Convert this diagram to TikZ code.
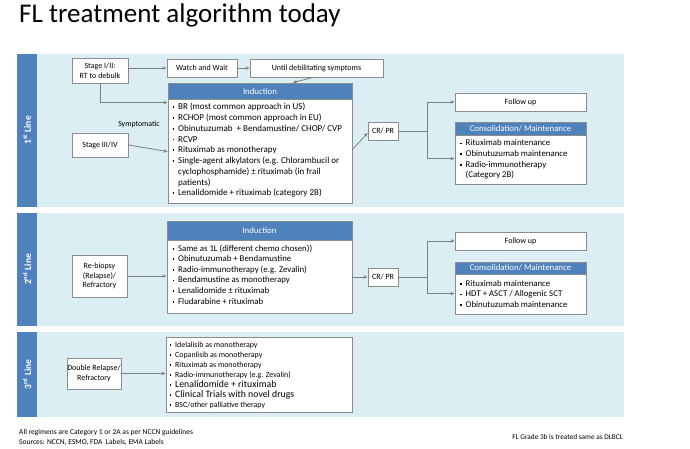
\documentclass[tikz,border=0pt]{standalone}
\usepackage{fontspec}
\setmainfont{Carlito}
\usetikzlibrary{arrows.meta,calc}
\definecolor{bandfill}{HTML}{DAEEF3}
\definecolor{hdrblue}{HTML}{4F81BD}
\definecolor{boxgray}{HTML}{8C8C8C}
\definecolor{arrgray}{HTML}{7F7F7F}
\newcommand{\bul}{\makebox[5.5pt][l]{\raisebox{1.6pt}{\rule{1.7pt}{1.7pt}}}}
\newcommand{\cnt}{\hspace*{5.5pt}}
\begin{document}
\begin{tikzpicture}[x=1pt,y=-1pt,
 box/.style={draw=boxgray, fill=white, line width=0.9pt, inner sep=0pt, align=center, font=\fontsize{8}{9.8}\selectfont},
 hdr/.style={draw=boxgray, fill=hdrblue, text=white, line width=0.9pt, inner sep=0pt, anchor=north, font=\fontsize{8.8}{10}\selectfont},
 lst/.style={inner sep=0pt, align=left, anchor=north west},
 arr/.style={draw=arrgray, line width=0.8pt, -{Stealth[length=4pt,width=3.5pt]}},
 ln/.style={draw=arrgray, line width=0.8pt},
 bar/.style={fill=hdrblue, draw=none, inner sep=0pt, minimum width=20pt},
 bartxt/.style={rotate=90, text=white, inner sep=0pt, font=\fontsize{9.5}{11}\selectfont\bfseries},
 band/.style={fill=bandfill}]
\useasboundingbox (0,0) rectangle (690,449);
\fill[white] (0,0) rectangle (690,449);

\node[anchor=base west, inner sep=0pt, font=\fontsize{27}{30}\selectfont] (title) at (19,23) {FL treatment algorithm today};

% bands
\fill[band] (37,54) rectangle (624,207);
\node[bar, minimum height=153pt] (bar1) at (27,130.5) {};
\node[bartxt] (lab1) at (bar1.center) {1\textsuperscript{st} Line};
\fill[band] (37,213) rectangle (624,326);
\node[bar, minimum height=113pt] (bar2) at (27,269.5) {};
\node[bartxt] (lab2) at (bar2.center) {2\textsuperscript{nd} Line};
\fill[band] (37,332) rectangle (624,417);
\node[bar, minimum height=85pt] (bar3) at (27,374.5) {};
\node[bartxt] (lab3) at (bar3.center) {3\textsuperscript{rd} Line};

% 1st line
\node[box, minimum width=56pt, minimum height=25pt] (s12) at (100,70.5) {Stage I/II:\\RT to debulk};
\node[box, minimum width=70pt, minimum height=18pt] (ww) at (202,68) {Watch and Wait};
\node[box, minimum width=133pt, minimum height=18pt] (until) at (316.5,68) {Until debilitating symptoms};
\node[box, minimum width=56pt, minimum height=24pt] (s34) at (100,145) {Stage III/IV};
\node[inner sep=0pt, font=\fontsize{7.8}{9}\selectfont] (symp) at (139,124) {Symptomatic};
\node[box, minimum width=184pt, minimum height=120pt] (ind1) at (260,143) {};
\node[hdr, minimum width=184pt, minimum height=16pt] (ind1h) at (ind1.north) {Induction};
\node[lst, font=\fontsize{9}{10.75}\selectfont] (ind1l) at (172.5,103) {\bul BR (most common approach in US)\\
\bul RCHOP (most common approach in EU)\\
\bul Obinutuzumab\ \ + Bendamustine/ CHOP/ CVP\\
\bul RCVP\\
\bul Rituximab as monotherapy\\
\bul Single-agent alkylators (e.g. Chlorambucil or\\
\cnt cyclophosphamide) ± rituximab (in frail\\
\cnt patients)\\
\bul Lenalidomide + rituximab (category 2B)};
\node[box, minimum width=30pt, minimum height=18pt] (crpr1) at (383,131) {CR/ PR};
\node[box, minimum width=131pt, minimum height=18pt] (fu1) at (520.5,102) {Follow up};
\node[box, minimum width=131pt, minimum height=62pt] (cons1) at (520.5,153) {};
\node[hdr, minimum width=131pt, minimum height=13pt] (cons1h) at (cons1.north) {Consolidation/ Maintenance};
\node[lst, font=\fontsize{8.8}{10.7}\selectfont] (cons1l) at (460,139.5) {\bul Rituximab maintenance\\
\bul Obinutuzumab maintenance\\
\bul Radio-immunotherapy\\
\cnt (Category 2B)};

\draw[arr] (s12.east |- ww.west) -- (ww.west);
\draw[arr] (ww.east) -- (until.west);
\draw[arr] ($(until.south)+(-3.5,0)$) -- ($(ind1.north)+(33,0)$);
\draw[arr] (s12.south) |- ($(ind1.north west)+(0,20)$);
\draw[arr] (s34.east) -- ($(ind1.north west)+(0,69)$);
\draw[arr] ($(ind1.north east)+(0,67)$) -- ($(crpr1.west)+(0,2)$);
\coordinate (br1) at ($(crpr1.east)+(29,0)$);
\draw[ln] (crpr1.east) -- (br1);
\draw[arr] (br1) |- (fu1.west);
\draw[arr] (br1) |- ($(cons1.north west)+(0,37)$);

% 2nd line
\node[box, minimum width=55pt, minimum height=42pt, font=\fontsize{8}{9.3}\selectfont] (rb) at (99.5,276) {Re-biopsy\\(Relapse)/\\Refractory};
\node[box, minimum width=185pt, minimum height=92pt] (ind2) at (259.5,267) {};
\node[hdr, minimum width=185pt, minimum height=19pt] (ind2h) at (ind2.north) {Induction};
\node[lst, font=\fontsize{8.8}{10.6}\selectfont] (ind2l) at (172.5,244.5) {\bul Same as 1L (different chemo chosen))\\
\bul Obinutuzumab + Bendamustine\\
\bul Radio-immunotherapy (e.g. Zevalin)\\
\bul Bendamustine as monotherapy\\
\bul Lenalidomide ± rituximab\\
\bul Fludarabine + rituximab};
\node[box, minimum width=30pt, minimum height=18pt] (crpr2) at (383,277) {CR/ PR};
\node[box, minimum width=131pt, minimum height=18pt] (fu2) at (520.5,241) {Follow up};
\node[box, minimum width=131pt, minimum height=52pt] (cons2) at (520.5,288) {};
\node[hdr, minimum width=131pt, minimum height=12pt] (cons2h) at (cons2.north) {Consolidation/ Maintenance};
\node[lst, font=\fontsize{8.8}{10.35}\selectfont] (cons2l) at (460,280.2) {\bul Rituximab maintenance\\
\bul HDT + ASCT / Allogenic SCT\\
\bul Obinutuzumab maintenance};

\draw[arr] (rb.east) -- (rb.east -| ind2.west);
\draw[arr] (crpr2.west -| ind2.east) -- (crpr2.west);
\coordinate (br2) at ($(crpr2.east)+(29,0)$);
\draw[ln] (crpr2.east) -- (br2);
\draw[arr] (br2) |- (fu2.west);
\draw[arr] (br2) |- ($(cons2.north west)+(0,32)$);

% 3rd line
\node[box, minimum width=54pt, minimum height=31pt] (dr) at (94,373.5) {Double Relapse/\\Refractory};
\node[box, minimum width=186pt, minimum height=75pt] (l3) at (259,374.5) {};
\node[lst, font=\fontsize{7.9}{10}\selectfont] (l3l) at (169.5,341.6) {\bul Idelalisib as monotherapy\\
\bul Copanlisib as monotherapy\\
\bul Rituximab as monotherapy\\
\bul Radio-immunotherapy (e.g. Zevalin)\\
{\fontsize{9.8}{10}\selectfont\bul Lenalidomide + rituximab}\\
{\fontsize{9.8}{10}\selectfont\bul Clinical Trials with novel drugs}\\
\bul BSC/other palliative therapy};
\draw[arr] (dr.east) -- (dr.east -| l3.west);

% footer
\node[anchor=west, inner sep=0pt, align=left, font=\fontsize{7.5}{10}\selectfont] (foot) at (19,437) {All regimens are Category 1 or 2A as per NCCN guidelines\\Sources: NCCN, ESMO, FDA\ \ Labels, EMA Labels};
\node[anchor=east, inner sep=0pt, font=\fontsize{7.3}{9}\selectfont] (note) at (623,436.5) {FL Grade 3b is treated same as DLBCL};
\end{tikzpicture}
\end{document}
